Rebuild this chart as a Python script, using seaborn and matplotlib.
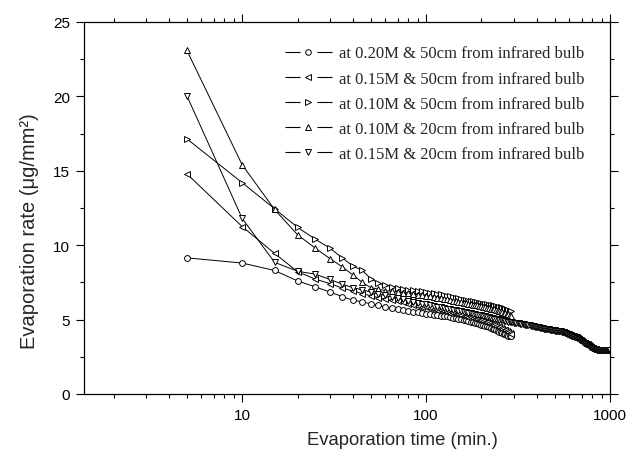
import matplotlib
matplotlib.use("Agg")
import matplotlib.pyplot as plt
from matplotlib.lines import Line2D
from matplotlib.ticker import LogLocator, NullFormatter, MultipleLocator, FixedLocator, FixedFormatter
import seaborn as sns
import pandas as pd

# ---------------- data ----------------
time_short = list(range(5, 295, 5))      # 5 ... 290 min, every 5 min
time_long = list(range(5, 1005, 5))      # 5 ... 1000 min, every 5 min

rate_020M_50cm = [
    9.15, 8.80, 8.30, 7.60, 7.20, 6.85, 6.55, 6.30, 6.20, 6.05,
    5.95, 5.82, 5.75, 5.68, 5.62, 5.57, 5.52, 5.48, 5.44, 5.40,
    5.36, 5.33, 5.30, 5.27, 5.24, 5.21, 5.18, 5.14, 5.10, 5.06,
    5.02, 4.98, 4.94, 4.90, 4.86, 4.82, 4.78, 4.74, 4.70, 4.66,
    4.62, 4.58, 4.54, 4.50, 4.45, 4.40, 4.35, 4.30, 4.25, 4.20,
    4.15, 4.10, 4.05, 4.00, 3.96, 3.93, 3.91, 3.90]

rate_015M_50cm = [
    14.80, 11.25, 9.45, 8.22, 7.72, 7.42, 7.12, 6.92, 6.75, 6.60,
    6.48, 6.38, 6.30, 6.22, 6.15, 6.08, 6.01, 5.94, 5.88, 5.82,
    5.77, 5.72, 5.67, 5.62, 5.57, 5.52, 5.47, 5.43, 5.39, 5.35,
    5.31, 5.27, 5.23, 5.19, 5.15, 5.11, 5.07, 5.03, 4.99, 4.95,
    4.91, 4.87, 4.83, 4.78, 4.73, 4.68, 4.63, 4.58, 4.53, 4.48,
    4.43, 4.38, 4.33, 4.28, 4.22, 4.16, 4.10, 4.05]

rate_010M_50cm = [
    17.15, 14.20, 12.45, 11.20, 10.40, 9.80, 9.15, 8.60, 8.30, 7.75,
    7.45, 7.30, 7.22, 7.15, 7.08, 7.02, 6.97, 6.93, 6.89, 6.85,
    6.81, 6.77, 6.73, 6.69, 6.64, 6.60, 6.56, 6.52, 6.48, 6.44,
    6.40, 6.35, 6.31, 6.28, 6.25, 6.22, 6.19, 6.16, 6.13, 6.10,
    6.08, 6.05, 6.03, 6.00, 5.98, 5.95, 5.93, 5.90, 5.88, 5.85,
    5.82, 5.79, 5.75, 5.71, 5.67, 5.63, 5.59, 5.55]

rate_010M_20cm = [
    23.10, 15.40, 12.40, 10.70, 9.80, 9.10, 8.55, 8.00, 7.50, 7.15,
    7.05, 6.95, 6.90, 6.85, 6.80, 6.76, 6.72, 6.68, 6.64, 6.60,
    6.56, 6.52, 6.48, 6.44, 6.40, 6.36, 6.32, 6.28, 6.24, 6.20,
    6.17, 6.13, 6.10, 6.07, 6.04, 6.01, 5.98, 5.95, 5.92, 5.89,
    5.86, 5.83, 5.80, 5.77, 5.74, 5.71, 5.68, 5.65, 5.62, 5.59,
    5.55, 5.51, 5.47, 5.43, 5.39, 5.35, 5.31, 5.27]

rate_015M_20cm = [
    20.05, 11.80, 8.85, 8.25, 8.05, 7.70, 7.38, 7.15, 7.00, 6.85,
    6.72, 6.62, 6.52, 6.44, 6.36, 6.28, 6.21, 6.14, 6.08, 6.02,
    5.97, 5.92, 5.87, 5.82, 5.78, 5.74, 5.70, 5.66, 5.62, 5.58,
    5.55, 5.52, 5.49, 5.46, 5.43, 5.40, 5.37, 5.34, 5.31, 5.28,
    5.25, 5.22, 5.19, 5.16, 5.13, 5.10, 5.07, 5.04, 5.01, 4.98,
    4.96, 4.94, 4.92, 4.90, 4.88, 4.86, 4.84, 4.82,
    4.81,
    4.80, 4.79, 4.77, 4.76, 4.74, 4.73, 4.71, 4.70, 4.68, 4.67,
    4.65, 4.64, 4.62, 4.61, 4.59, 4.58, 4.56, 4.55, 4.53, 4.52,
    4.50, 4.49, 4.47, 4.46, 4.44, 4.43, 4.41, 4.40, 4.39, 4.38, 4.37,
    4.36, 4.35, 4.34, 4.33, 4.32, 4.31, 4.30, 4.29, 4.28, 4.27,
    4.26, 4.25, 4.24, 4.23, 4.22, 4.22, 4.21, 4.21, 4.20, 4.20,
    4.18, 4.16, 4.14, 4.12, 4.10, 4.08, 4.05, 4.03, 4.01, 3.99,
    3.97, 3.95, 3.93, 3.91, 3.90, 3.88, 3.87, 3.86, 3.85, 3.84,
    3.82, 3.80, 3.77, 3.75, 3.72, 3.69, 3.66, 3.63, 3.60, 3.57,
    3.54, 3.51, 3.48, 3.46, 3.44, 3.42, 3.40, 3.38, 3.37, 3.36,
    3.33, 3.30, 3.27, 3.24, 3.21, 3.18, 3.15, 3.13, 3.11, 3.09,
    3.07, 3.06, 3.05, 3.04, 3.03, 3.02, 3.01, 3.00, 2.99, 2.98,
    2.98, 2.98, 2.97, 2.97, 2.97, 2.96, 2.96, 2.96, 2.96, 2.95,
    2.95, 2.95, 2.95, 2.95, 2.95, 2.95, 2.95, 2.95, 2.95, 2.95,
    2.95, 2.95, 2.95, 2.95, 2.95, 2.95, 2.95, 2.95, 2.95, 2.95]

series_labels = [
    "at 0.20M & 50cm from infrared bulb",
    "at 0.15M & 50cm from infrared bulb",
    "at 0.10M & 50cm from infrared bulb",
    "at 0.10M & 20cm from infrared bulb",
    "at 0.15M & 20cm from infrared bulb",
]
series_times = [time_short, time_short, time_short, time_short, time_long]
series_values = [rate_020M_50cm, rate_015M_50cm, rate_010M_50cm,
                 rate_010M_20cm, rate_015M_20cm]
series_markers = ["o", "<", ">", "^", "v"]

y_ticks = [0, 5, 10, 15, 20, 25]
x_ticks = [10, 100, 1000]
x_tick_labels = ["10", "100", "1000"]

# ---------------- figure ----------------
sns.set_style("ticks")
plt.rcParams["font.family"] = ["Liberation Sans", "DejaVu Sans"]

fig = plt.figure(figsize=(6.32, 4.56), dpi=100)
ax = fig.add_axes([84 / 632, 61 / 456, 526 / 632, 372 / 456])

for t, v, m in zip(series_times, series_values, series_markers):
    df = pd.DataFrame({"time": t, "rate": v})
    msize = 4.2 if m == "o" else 4.8
    sns.lineplot(data=df, x="time", y="rate", ax=ax, color="black",
                 linewidth=0.7, marker=m, markersize=msize,
                 markerfacecolor="white", markeredgecolor="black",
                 markeredgewidth=0.7, legend=False, errorbar=None)

ax.set_xscale("log")
ax.set_xlim(1.38, 1000)
ax.set_ylim(0, 25)
ax.xaxis.set_major_locator(FixedLocator(x_ticks))
ax.xaxis.set_major_formatter(FixedFormatter(x_tick_labels))
ax.xaxis.set_minor_locator(LogLocator(base=10, subs=range(2, 10)))
ax.xaxis.set_minor_formatter(NullFormatter())
ax.yaxis.set_major_locator(FixedLocator(y_ticks))
ax.yaxis.set_minor_locator(MultipleLocator(2.5))

for sp in ax.spines.values():
    sp.set_visible(True)
    sp.set_linewidth(0.9)
    sp.set_color("black")

ax.tick_params(which="both", direction="out", top=True, right=True,
               labeltop=False, labelright=False, colors="black",
               labelsize=11, width=0.8)
ax.tick_params(which="major", length=5.5, pad=4.5)
ax.tick_params(which="minor", length=3)

ax.set_xlabel("Evaporation time (min.)", fontsize=13.3)
ax.set_ylabel("Evaporation rate (\u03bcg/mm\u00b2)", fontsize=14.5)
ax.xaxis.set_label_coords(0.606, -0.10)
ax.yaxis.set_label_coords(-0.086, 0.44)

# legend with broken-line handles
handles = [Line2D([], [], color="black", linewidth=0.8,
                  linestyle=(0, (13.5, 15.3)), marker=m,
                  markersize=(4.0 if m == "o" else 4.4),
                  markerfacecolor="white", markeredgecolor="black",
                  markeredgewidth=0.7)
           for m in series_markers]
leg = ax.legend(handles, series_labels, loc="upper left",
                bbox_to_anchor=(0.382, 0.937), frameon=False,
                prop={"family": ["Liberation Serif"], "size": 12},
                handlelength=2.8, handletextpad=0.42, labelspacing=0.55,
                borderpad=0, borderaxespad=0)

fig.savefig("out.png", dpi=100)
